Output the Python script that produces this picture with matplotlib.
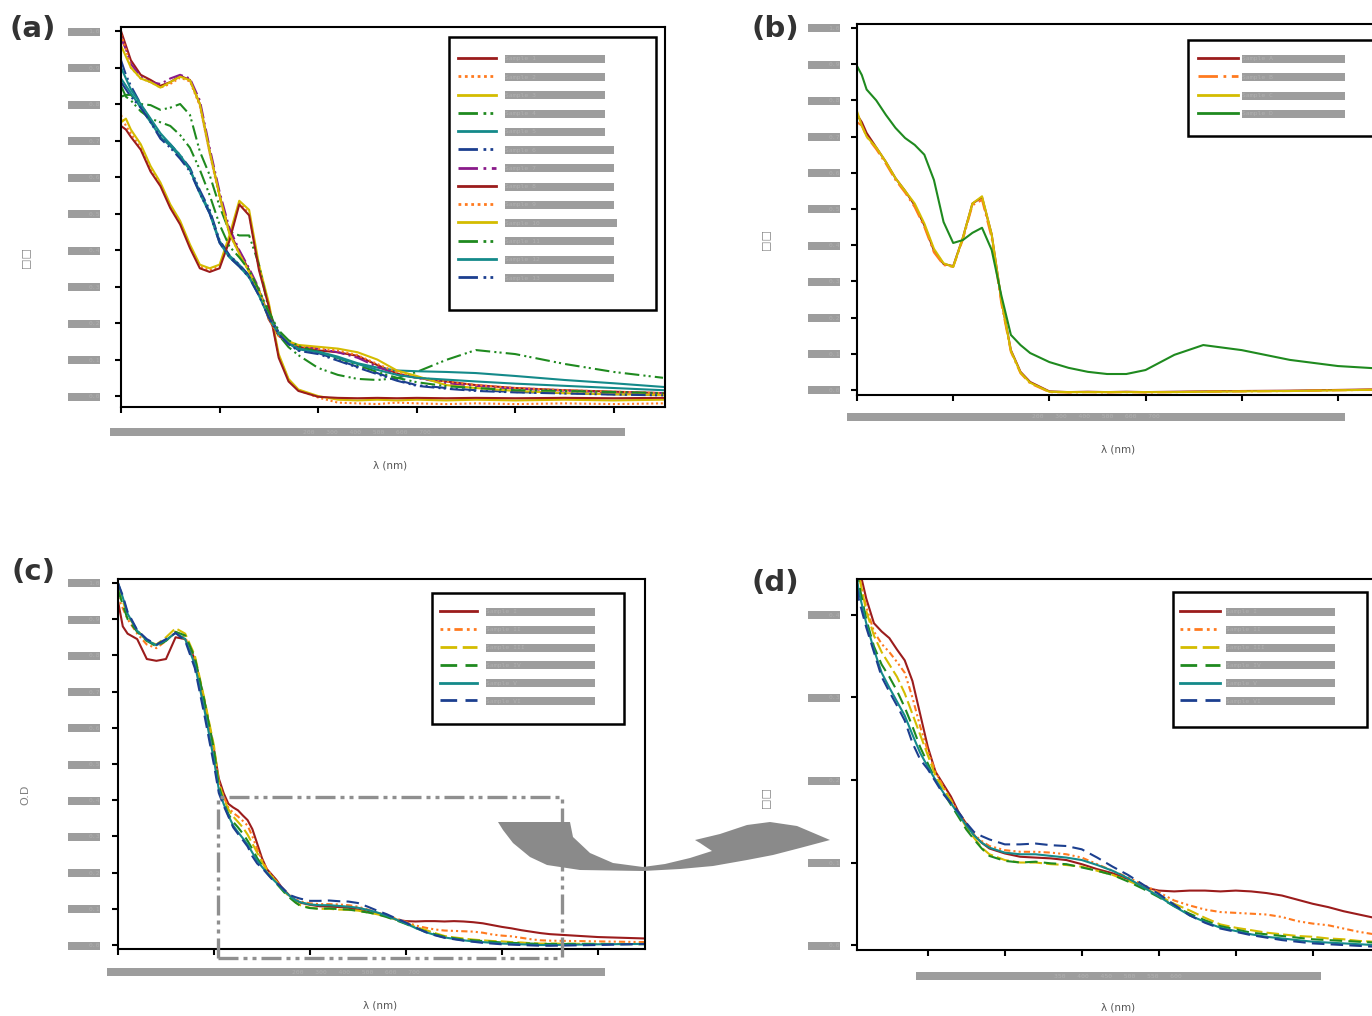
import matplotlib
matplotlib.use("Agg")
import matplotlib.pyplot as plt
from matplotlib.path import Path
from matplotlib.patches import PathPatch, Rectangle

# ---------------------------------------------------------------- data
wl_ab = [200, 205, 210, 220, 230, 240, 250, 260, 270, 280, 290, 300, 310, 320, 330, 340,
         350, 360, 370, 380, 400, 420, 440, 460, 480, 500, 530, 560, 600, 650, 700, 750]

a_red_1 = [1.00, 0.96, 0.92, 0.88, 0.866, 0.85, 0.86, 0.877, 0.866, 0.80, 0.67, 0.55, 0.45, 0.395, 0.345, 0.29,
           0.21, 0.165, 0.145, 0.135, 0.125, 0.12, 0.11, 0.085, 0.062, 0.05, 0.04, 0.03, 0.022, 0.016, 0.012, 0.008]
a_orange_1 = [0.77, 0.74, 0.72, 0.68, 0.62, 0.58, 0.52, 0.475, 0.41, 0.355, 0.345, 0.355, 0.43, 0.53, 0.50, 0.35,
              0.25, 0.11, 0.044, 0.016, -0.004, -0.018, -0.02, -0.022, -0.018, -0.02, -0.022, -0.02, -0.022, -0.02, -0.022, -0.02]
a_yellow_1 = [0.75, 0.76, 0.73, 0.69, 0.63, 0.585, 0.525, 0.48, 0.415, 0.36, 0.35, 0.36, 0.44, 0.535, 0.51, 0.36,
              0.255, 0.115, 0.047, 0.018, 0.0, -0.01, -0.012, -0.01, -0.012, -0.01, -0.012, -0.01, -0.012, -0.01, -0.012, -0.01]
a_green_1 = [0.82, 0.825, 0.825, 0.80, 0.797, 0.784, 0.79, 0.80, 0.77, 0.67, 0.605, 0.52, 0.45, 0.44, 0.44, 0.36,
             0.236, 0.167, 0.134, 0.112, 0.077, 0.058, 0.047, 0.044, 0.049, 0.066, 0.099, 0.126, 0.115, 0.088, 0.066, 0.05]
a_teal_1 = [0.87, 0.85, 0.83, 0.79, 0.75, 0.71, 0.685, 0.655, 0.62, 0.56, 0.505, 0.425, 0.385, 0.36, 0.33, 0.28,
            0.22, 0.175, 0.148, 0.13, 0.122, 0.108, 0.09, 0.078, 0.07, 0.068, 0.066, 0.063, 0.055, 0.044, 0.035, 0.025]
a_navy_1 = [0.92, 0.88, 0.85, 0.80, 0.756, 0.715, 0.69, 0.66, 0.625, 0.564, 0.51, 0.427, 0.386, 0.36, 0.33, 0.28,
            0.22, 0.175, 0.145, 0.126, 0.118, 0.099, 0.08, 0.063, 0.044, 0.03, 0.022, 0.016, 0.011, 0.008, 0.005, 0.003]
a_purple = [0.98, 0.95, 0.91, 0.875, 0.86, 0.855, 0.87, 0.88, 0.87, 0.81, 0.68, 0.56, 0.46, 0.40, 0.35, 0.295,
            0.215, 0.17, 0.148, 0.138, 0.13, 0.12, 0.105, 0.08, 0.06, 0.05, 0.035, 0.028, 0.02, 0.015, 0.01, 0.008]
a_red_2 = [0.74, 0.73, 0.71, 0.675, 0.615, 0.575, 0.515, 0.47, 0.405, 0.35, 0.34, 0.35, 0.425, 0.525, 0.495, 0.345,
           0.245, 0.105, 0.04, 0.014, -0.002, -0.005, -0.006, -0.005, -0.006, -0.005, -0.006, -0.005, -0.006, -0.005, -0.006, -0.005]
a_orange_2 = [0.99, 0.95, 0.90, 0.87, 0.86, 0.845, 0.855, 0.872, 0.862, 0.795, 0.665, 0.545, 0.445, 0.39, 0.34, 0.285,
              0.21, 0.165, 0.146, 0.137, 0.13, 0.125, 0.112, 0.088, 0.065, 0.052, 0.04, 0.03, 0.022, 0.016, 0.012, 0.008]
a_yellow_2 = [0.96, 0.93, 0.90, 0.87, 0.86, 0.845, 0.86, 0.875, 0.865, 0.80, 0.67, 0.55, 0.445, 0.39, 0.34, 0.29,
              0.215, 0.17, 0.15, 0.14, 0.135, 0.13, 0.12, 0.10, 0.07, 0.055, 0.03, 0.022, 0.014, 0.008, 0.005, 0.003]
a_green_2 = [0.85, 0.82, 0.81, 0.78, 0.76, 0.75, 0.74, 0.715, 0.68, 0.62, 0.55, 0.47, 0.41, 0.38, 0.345, 0.29,
             0.23, 0.18, 0.153, 0.137, 0.12, 0.104, 0.085, 0.066, 0.05, 0.038, 0.027, 0.022, 0.016, 0.014, 0.011, 0.008]
a_teal_2 = [0.90, 0.87, 0.84, 0.80, 0.76, 0.72, 0.69, 0.66, 0.62, 0.555, 0.50, 0.42, 0.38, 0.355, 0.325, 0.275,
            0.215, 0.17, 0.145, 0.128, 0.12, 0.105, 0.088, 0.072, 0.058, 0.05, 0.045, 0.04, 0.034, 0.028, 0.022, 0.016]
a_navy_2 = [0.86, 0.84, 0.82, 0.79, 0.75, 0.705, 0.68, 0.65, 0.615, 0.555, 0.50, 0.42, 0.38, 0.355, 0.325, 0.275,
            0.215, 0.17, 0.142, 0.124, 0.115, 0.097, 0.078, 0.06, 0.042, 0.028, 0.02, 0.014, 0.01, 0.007, 0.004, 0.002]
a_labels = ["Sample 1", "Sample 2", "Sample 3", "Sample 4", "Sample 5", "Sample 6", "Sample 7",
            "Sample 8", "Sample 9", "Sample 10", "Sample 11", "Sample 12", "Sample 13"]

b_red = [0.76, 0.74, 0.71, 0.67, 0.63, 0.585, 0.55, 0.51, 0.455, 0.385, 0.348, 0.342, 0.42, 0.515, 0.532, 0.43,
         0.25, 0.11, 0.05, 0.022, -0.004, -0.006, -0.005, -0.006, -0.005, -0.006, -0.005, -0.004, -0.003, -0.002, 0.0, 0.002]
b_orange = [0.74, 0.73, 0.70, 0.665, 0.625, 0.58, 0.545, 0.505, 0.45, 0.38, 0.345, 0.34, 0.415, 0.51, 0.525, 0.42,
            0.24, 0.105, 0.046, 0.018, -0.006, -0.007, -0.006, -0.007, -0.006, -0.007, -0.006, -0.005, -0.004, -0.003, -0.001, 0.001]
b_yellow = [0.77, 0.73, 0.70, 0.67, 0.63, 0.585, 0.55, 0.515, 0.46, 0.39, 0.35, 0.34, 0.42, 0.515, 0.535, 0.43,
            0.25, 0.108, 0.048, 0.02, -0.005, -0.006, -0.006, -0.006, -0.006, -0.006, -0.006, -0.005, -0.004, -0.003, -0.001, 0.001]
b_green = [0.895, 0.87, 0.83, 0.80, 0.76, 0.724, 0.696, 0.677, 0.65, 0.58, 0.464, 0.406, 0.414, 0.434, 0.448, 0.387,
           0.262, 0.152, 0.124, 0.102, 0.077, 0.061, 0.05, 0.044, 0.044, 0.055, 0.097, 0.124, 0.11, 0.083, 0.066, 0.058]
b_labels = ["Sample A", "Sample B", "Sample C", "Sample D"]

wl_cd = [200, 205, 210, 220, 230, 240, 250, 260, 270, 280, 290, 300,
         305, 310, 315, 320, 325, 330, 335, 340, 345, 350, 355, 360, 365, 370, 375, 380, 385, 390,
         400, 410, 420, 430, 440, 450, 460, 470, 480, 490, 500, 510, 520, 530, 540, 550, 560,
         570, 580, 590, 600, 610, 620, 630, 640, 650, 700, 750]
c_red = [0.95, 0.88, 0.86, 0.845, 0.79, 0.785, 0.79, 0.85, 0.845, 0.79, 0.675, 0.54,
         0.46, 0.42, 0.39, 0.38, 0.372, 0.358, 0.345, 0.32, 0.28, 0.24, 0.21, 0.195, 0.18, 0.161, 0.147, 0.133, 0.124, 0.117,
         0.111, 0.107, 0.106, 0.105, 0.103, 0.098, 0.092, 0.087, 0.08, 0.07, 0.066, 0.065, 0.066, 0.066, 0.065, 0.066, 0.065,
         0.063, 0.06, 0.055, 0.05, 0.046, 0.041, 0.037, 0.033, 0.03, 0.022, 0.018]
c_orange = [0.96, 0.93, 0.90, 0.86, 0.83, 0.82, 0.84, 0.865, 0.85, 0.79, 0.67, 0.53,
            0.45, 0.41, 0.38, 0.365, 0.355, 0.343, 0.33, 0.30, 0.265, 0.235, 0.21, 0.192, 0.176, 0.16, 0.146, 0.134, 0.126, 0.12,
            0.115, 0.113, 0.113, 0.112, 0.11, 0.106, 0.098, 0.09, 0.082, 0.073, 0.064, 0.054, 0.048, 0.043, 0.04, 0.039, 0.038,
            0.037, 0.034, 0.029, 0.026, 0.024, 0.02, 0.016, 0.013, 0.012, 0.01, 0.008]
c_yellow = [0.99, 0.95, 0.91, 0.87, 0.84, 0.83, 0.85, 0.875, 0.86, 0.80, 0.68, 0.55,
            0.45, 0.405, 0.375, 0.355, 0.34, 0.325, 0.305, 0.28, 0.255, 0.23, 0.205, 0.19, 0.175, 0.158, 0.143, 0.13, 0.118, 0.11,
            0.103, 0.10, 0.10, 0.098, 0.097, 0.095, 0.09, 0.085, 0.078, 0.07, 0.06, 0.05, 0.042, 0.033, 0.025, 0.021, 0.018,
            0.015, 0.013, 0.011, 0.01, 0.008, 0.007, 0.005, 0.004, 0.004, 0.003, 0.003]
c_green = [0.98, 0.94, 0.90, 0.865, 0.84, 0.825, 0.84, 0.865, 0.855, 0.795, 0.675, 0.54,
           0.44, 0.395, 0.362, 0.34, 0.325, 0.308, 0.288, 0.265, 0.24, 0.22, 0.20, 0.185, 0.17, 0.155, 0.14, 0.128, 0.117, 0.108,
           0.102, 0.10, 0.101, 0.099, 0.098, 0.094, 0.09, 0.085, 0.077, 0.068, 0.058, 0.047, 0.038, 0.03, 0.023, 0.019, 0.015,
           0.013, 0.011, 0.009, 0.007, 0.006, 0.005, 0.004, 0.003, 0.003, 0.003, 0.002]
c_teal = [1.0, 0.96, 0.915, 0.868, 0.842, 0.828, 0.842, 0.862, 0.845, 0.775, 0.65, 0.51,
          0.43, 0.39, 0.358, 0.33, 0.312, 0.295, 0.278, 0.255, 0.233, 0.216, 0.20, 0.185, 0.172, 0.158, 0.145, 0.133, 0.124, 0.118,
          0.112, 0.11, 0.11, 0.108, 0.106, 0.103, 0.097, 0.09, 0.081, 0.07, 0.059, 0.047, 0.036, 0.028, 0.021, 0.017, 0.013,
          0.01, 0.008, 0.006, 0.004, 0.003, 0.002, 0.001, 0.0, 0.0, 0.002, 0.003]
c_navy = [1.0, 0.965, 0.92, 0.87, 0.845, 0.83, 0.845, 0.862, 0.84, 0.765, 0.635, 0.497,
          0.42, 0.385, 0.355, 0.325, 0.307, 0.29, 0.272, 0.245, 0.225, 0.213, 0.198, 0.183, 0.172, 0.161, 0.148, 0.137, 0.132, 0.128,
          0.122, 0.122, 0.123, 0.121, 0.12, 0.116, 0.106, 0.095, 0.085, 0.073, 0.062, 0.049, 0.036, 0.027, 0.02, 0.016, 0.012,
          0.009, 0.006, 0.004, 0.002, 0.001, 0.0, -0.001, -0.002, -0.002, 0.0, 0.003]
cd_labels = ["Sample I", "Sample II", "Sample III", "Sample IV", "Sample V", "Sample VI"]

ticks_x_full = [200, 300, 400, 500, 600, 700]
ticks_x_zoom = [350, 400, 450, 500, 550, 600]
ticks_y_full = [0.0, 0.1, 0.2, 0.3, 0.4, 0.5, 0.6, 0.7, 0.8, 0.9, 1.0]
ticks_y_zoom = [0.0, 0.1, 0.2, 0.3, 0.4]
zoom_x = (304, 663)
zoom_y = (-0.036, 0.409)

# ---------------------------------------------------------------- styles
RED, ORANGE, YELLOW = '#9b1c1c', '#ff7a1f', '#d4bc00'
GREEN, TEAL, NAVY, PURPLE = '#1f8a1f', '#148a8a', '#1c3f8f', '#8a1a8a'
SOLID = '-'
DOTTED = (0, (1, 1.3))
DDOT = (0, (7, 2, 1, 1.5, 1, 2))
DDASH = (0, (7, 2, 1, 2))
DASHED = (0, (6, 2))
ODASH = (0, (1, 1.5, 1, 1.5, 3, 1.5))
LW = 1.5

BAR = '#9d9d9d'
BAR_TXT = '#b0b0b0'
MONO = 'DejaVu Sans Mono'
FS = 4.6

W, H = 1372, 1016
fig = plt.figure(figsize=(W / 100, H / 100), dpi=100)
fig.patch.set_facecolor('white')


def fx(px):
    return px / W


def fy(py):
    return 1.0 - py / H


def axes_at(l, t, r, b):
    return fig.add_axes([fx(l), fy(b), fx(r) - fx(l), fy(t) - fy(b)])


def bar_box(width_px, height_px=8, align='center'):
    def box(x0, y0, width, height, mutation_size):
        cy = y0 + height / 2.0
        if align == 'left':
            left = x0
        elif align == 'right':
            left = x0 + width - width_px
        else:
            left = x0 + width / 2.0 - width_px / 2.0
        b, t = cy - height_px / 2.0, cy + height_px / 2.0
        r = left + width_px
        return Path([(left, b), (r, b), (r, t), (left, t), (left, b)], closed=True)
    return box


def setup(ax, xlim, ylim, xticks, yticks, ypad_px):
    ax.set_xlim(*xlim)
    ax.set_ylim(*ylim)
    for s in ax.spines.values():
        s.set_linewidth(1.5)
        s.set_color('black')
    ax.set_xticks(xticks)
    ax.set_xticklabels([])
    ax.set_yticks(yticks)
    ax.set_yticklabels([f"{v:.1f}" for v in yticks], fontfamily=MONO, fontsize=FS, color=BAR_TXT)
    ax.tick_params(direction='out', length=4.3, width=1.5, color='black')
    ax.tick_params(axis='y', pad=ypad_px * 0.72)
    for lab in ax.get_yticklabels():
        lab.set_bbox(dict(boxstyle=bar_box(32, 8, 'right'), facecolor=BAR, edgecolor='none'))


def xrow(ax, xticks, cx, cy, width):
    row = "   ".join(str(t) for t in xticks)
    fig.text(fx(cx), fy(cy), row, ha='center', va='center', fontfamily=MONO, fontsize=FS,
             color=BAR_TXT, bbox=dict(boxstyle=bar_box(width, 8, 'center'), facecolor=BAR, edgecolor='none'))


def labels(ax, ylab, xlab_px, ylab_px, l, t, r, b):
    ax.set_xlabel('λ (nm)', fontsize=7.5, color='#555555')
    ax.xaxis.set_label_coords((xlab_px[0] - l) / (r - l), (b - xlab_px[1]) / (b - t))
    ax.xaxis.label.set_va('center')
    ax.set_ylabel(ylab, fontsize=8, color='#808080')
    ax.yaxis.set_label_coords((ylab_px[0] - l) / (r - l), (b - ylab_px[1]) / (b - t))
    ax.yaxis.label.set_va('center')


def add_legend(ax, handles, labs, x0, y_first, row_step, handle_len, bar_x0, bar_widths, box):
    fs_px = FS * 100 / 72
    text_h = 6.4
    leg = ax.legend(handles, labs, loc='upper left',
                    bbox_to_anchor=(fx(x0), fy(y_first - text_h / 2)), bbox_transform=fig.transFigure,
                    frameon=False, borderpad=0, borderaxespad=0,
                    handlelength=handle_len / fs_px,
                    handletextpad=(bar_x0 - x0 - handle_len) / fs_px,
                    labelspacing=(row_step - text_h) / fs_px,
                    prop={'family': MONO, 'size': FS})
    for txt, w in zip(leg.get_texts(), bar_widths):
        txt.set_color(BAR_TXT)
        txt.set_bbox(dict(boxstyle=bar_box(w, 8, 'left'), facecolor=BAR, edgecolor='none'))
    for ln in leg.get_lines():
        ln.set_linewidth(2.0)
    l, t, r, b = box
    rect = Rectangle((fx(l), fy(b)), fx(r) - fx(l), fy(t) - fy(b), transform=fig.transFigure,
                     facecolor='white', edgecolor='black', linewidth=1.8, zorder=4, clip_on=False)
    ax.add_artist(rect)
    leg.set_zorder(6)
    return leg


# ---------------------------------------------------------------- (a)
A = (121, 27, 665, 407)
ax_a = axes_at(*A)
a_series = [
    (a_red_1, RED, SOLID), (a_orange_1, ORANGE, DOTTED), (a_yellow_1, YELLOW, SOLID),
    (a_green_1, GREEN, DDOT), (a_teal_1, TEAL, SOLID), (a_navy_1, NAVY, DDOT),
    (a_purple, PURPLE, DDASH), (a_red_2, RED, SOLID), (a_orange_2, ORANGE, DOTTED),
    (a_yellow_2, YELLOW, SOLID), (a_green_2, GREEN, DDOT), (a_teal_2, TEAL, SOLID),
    (a_navy_2, NAVY, DDOT)]
a_handles = []
for (ys, col, ls), lab in zip(a_series, a_labels):
    ln, = ax_a.plot(wl_ab, ys, color=col, linestyle=ls, linewidth=LW, label=lab)
    a_handles.append(ln)
setup(ax_a, (200, 752), (-0.030, 1.011), ticks_x_full, ticks_y_full, 15)
xrow(ax_a, ticks_x_full, 367, 432, 515)
labels(ax_a, '□□', (390, 466), (25, 258), *A)
add_legend(ax_a, a_handles, a_labels, 458, 59, 19.2, 38, 505,
           [100, 100, 100, 100, 100, 109, 109, 109, 109, 112, 109, 109, 109], (449, 37, 656, 310))

# ---------------------------------------------------------------- (b)
B = (857, 24, 1386, 395)
ax_b = axes_at(*B)
b_series = [(b_red, RED, SOLID), (b_orange, ORANGE, DDASH), (b_yellow, YELLOW, SOLID), (b_green, GREEN, SOLID)]
b_handles = []
for (ys, col, ls), lab in zip(b_series, b_labels):
    ln, = ax_b.plot(wl_ab, ys, color=col, linestyle=ls, linewidth=LW, label=lab)
    b_handles.append(ln)
setup(ax_b, (200, 750), (-0.014, 1.011), ticks_x_full, ticks_y_full, 11)
xrow(ax_b, ticks_x_full, 1096, 417, 498)
labels(ax_b, '□□', (1118, 450), (765, 240), *B)
add_legend(ax_b, b_handles, b_labels, 1198, 59, 19.3, 40, 1242, [103] * 4, (1188, 40, 1400, 136))

# ---------------------------------------------------------------- (c) and (d)
cd_series = [(c_red, RED, SOLID), (c_orange, ORANGE, ODASH), (c_yellow, YELLOW, DASHED),
             (c_green, GREEN, (0, (6, 3))), (c_teal, TEAL, SOLID), (c_navy, NAVY, (0, (6, 3)))]

C = (118, 579, 645, 949)
ax_c = axes_at(*C)
c_handles = []
for (ys, col, ls), lab in zip(cd_series, cd_labels):
    ln, = ax_c.plot(wl_cd, ys, color=col, linestyle=ls, linewidth=LW, label=lab)
    c_handles.append(ln)
setup(ax_c, (200, 749), (-0.011, 1.011), ticks_x_full, ticks_y_full, 12)
xrow(ax_c, ticks_x_full, 356, 972, 498)
labels(ax_c, 'O.D', (380, 1005), (25, 795), *C)
add_legend(ax_c, c_handles, cd_labels, 440, 612, 18.8, 37, 486, [109] * 6, (432, 593, 624, 724))
ax_c.plot([zoom_x[0], zoom_x[0], zoom_x[1], zoom_x[1]], [zoom_y[0], zoom_y[1], zoom_y[1], zoom_y[0]],
          color='#8f8f8f', linewidth=2.4, linestyle=(0, (6, 1.5, 1.2, 1.5, 1.2, 1.5)), clip_on=False, zorder=3)
ax_c.plot([zoom_x[0], zoom_x[1]], [zoom_y[0], zoom_y[0]],
          color='#8f8f8f', linewidth=2.4, linestyle=(0, (6, 1.5, 1.2, 1.5, 1.2, 1.5)), clip_on=False, zorder=3)

D = (857, 579, 1409, 950)
ax_d = axes_at(*D)
d_handles = []
for (ys, col, ls), lab in zip(cd_series, cd_labels):
    ln, = ax_d.plot(wl_cd, ys, color=col, linestyle=ls, linewidth=LW, label=lab)
    d_handles.append(ln)
setup(ax_d, (zoom_x[0], zoom_x[1] - 0.5), (-0.006, 0.4436), ticks_x_zoom, ticks_y_zoom, 11)
xrow(ax_d, ticks_x_zoom, 1118, 976, 405)
labels(ax_d, '□□', (1118, 1007), (765, 797), *D)
add_legend(ax_d, d_handles, cd_labels, 1180, 612, 18.8, 40, 1226, [109] * 6, (1173, 592, 1367, 727))

# ---------------------------------------------------------------- arrow between (c) and (d)
arrow_px = [(498, 822), (570, 822), (573, 837), (590, 853), (613, 863), (643, 867), (665, 864), (690, 858),
            (712, 851), (700, 843), (695, 840), (720, 834), (747, 825), (770, 822), (797, 826), (830, 840),
            (800, 848), (773, 855), (747, 860), (713, 866), (680, 869), (643, 871), (580, 870), (547, 865),
            (530, 857), (513, 843), (503, 830), (498, 822)]
arrow = PathPatch(Path([(fx(x), fy(y)) for x, y in arrow_px], closed=True), transform=fig.transFigure,
                  facecolor='#8a8a8a', edgecolor='none', zorder=10)
fig.add_artist(arrow)

# ---------------------------------------------------------------- panel letters
for txt, (px, py) in zip(['(a)', '(b)', '(c)', '(d)'], [(33, 29), (775, 29), (33, 572), (775, 583)]):
    fig.text(fx(px), fy(py), txt, ha='center', va='center', fontsize=21, fontweight='bold', color='#333333')

fig.savefig('out.png', dpi=100)
